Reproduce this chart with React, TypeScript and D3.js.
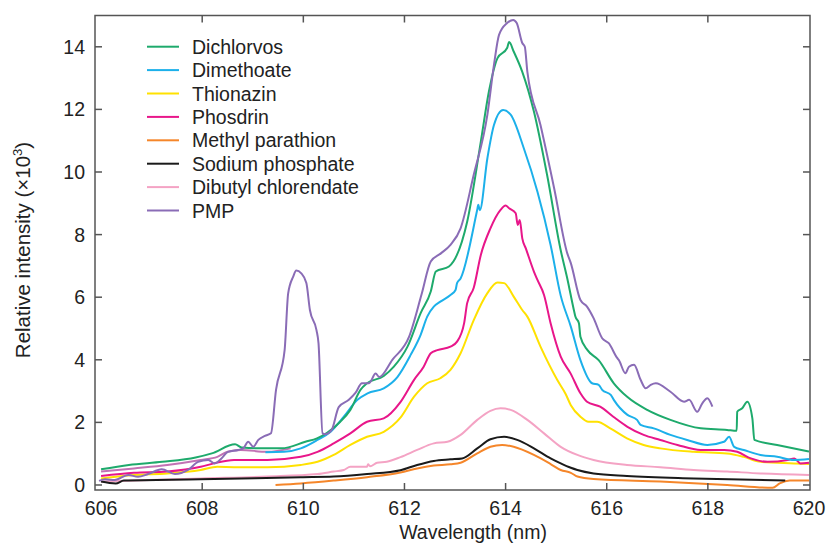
import React, { useEffect, useRef } from "react";
import * as d3 from "d3";

type Pt = [number, number];

// wavelength (nm), relative intensity (x10^3)
const dichlorvos: Pt[] = [
  [606.0, 0.5], [606.55, 0.64], [607.21, 0.74], [607.87, 0.88], [608.19, 1.01], [608.65, 1.3],
  [608.78, 1.2], [609.18, 1.17], [609.57, 1.17], [610.04, 1.38], [610.27, 1.49], [610.47, 1.67],
  [610.73, 2.02], [610.93, 2.4], [611.13, 3.04], [611.26, 3.25], [611.59, 3.48], [611.79, 3.78],
  [612.06, 4.42], [612.32, 5.49], [612.52, 6.18], [612.62, 6.82], [612.88, 6.98], [613.24, 8.41],
  [613.51, 10.97], [613.67, 12.57], [613.84, 13.64], [614.03, 13.96], [614.07, 14.15], [614.16, 13.85],
  [614.33, 13.2], [614.56, 11.93], [614.82, 9.91], [615.09, 7.5], [615.22, 6.6], [615.35, 5.59],
  [615.38, 5.38], [615.45, 5.17], [615.48, 4.74], [615.62, 4.31], [615.84, 3.99], [616.14, 3.25],
  [616.41, 2.81], [616.8, 2.4], [617.26, 2.08], [617.86, 1.81], [618.38, 1.76], [618.57, 1.73],
  [618.58, 2.34], [618.68, 2.45], [618.78, 2.66], [618.88, 2.13], [618.92, 1.44], [619.37, 1.28],
  [620.0, 1.07],
];

const dimethoate: Pt[] = [
  [609.25, 1.05], [609.62, 1.06], [609.95, 1.17], [610.28, 1.44], [610.54, 1.7], [610.8, 2.18],
  [611.07, 2.72], [611.27, 2.93], [611.59, 3.09], [611.86, 3.45], [612.12, 4.15], [612.32, 4.8],
  [612.45, 5.38], [612.58, 5.7], [612.71, 5.86], [612.91, 6.07], [613.01, 6.23], [613.04, 6.45],
  [613.11, 6.6], [613.44, 8.8], [613.46, 8.95], [613.49, 8.78], [613.64, 10.44], [613.77, 11.5],
  [613.95, 11.98], [614.1, 11.83], [614.36, 10.76], [614.63, 9.37], [614.89, 7.67], [615.09, 6.05],
  [615.29, 5.06], [615.48, 3.99], [615.71, 3.25], [615.84, 3.2], [615.91, 3.04], [616.08, 2.88],
  [616.14, 2.72], [616.41, 2.24], [616.6, 2.08], [616.67, 1.92], [616.93, 1.81], [617.26, 1.6],
  [617.59, 1.44], [617.99, 1.28], [618.32, 1.38], [618.42, 1.54], [618.52, 1.22], [618.71, 1.12],
  [619.04, 0.96], [619.37, 0.9], [619.7, 0.8], [620.0, 0.83],
];

const thionazin: Pt[] = [
  [606.0, 0.21], [606.65, 0.32], [607.31, 0.37], [607.97, 0.48], [608.3, 0.58], [608.63, 0.57],
  [609.29, 0.57], [609.95, 0.64], [610.28, 0.74], [610.6, 0.96], [610.93, 1.28], [611.26, 1.54],
  [611.59, 1.7], [611.92, 2.15], [612.19, 2.82], [612.45, 3.25], [612.71, 3.41], [612.91, 3.68],
  [613.11, 4.21], [613.37, 5.27], [613.64, 6.13], [613.84, 6.47], [613.97, 6.45], [614.16, 6.02],
  [614.33, 5.59], [614.43, 5.38], [614.69, 4.42], [615.02, 3.36], [615.19, 2.9], [615.29, 2.55],
  [615.48, 2.18], [615.64, 2.02], [615.81, 2.02], [616.07, 1.81], [616.4, 1.49], [616.73, 1.28],
  [617.06, 1.17], [617.72, 1.06], [618.38, 1.01], [618.71, 0.9], [619.04, 0.74], [619.7, 0.69],
  [620.0, 0.67],
];

const phosdrin: Pt[] = [
  [606.0, 0.29], [606.65, 0.39], [607.31, 0.43], [607.97, 0.58], [608.23, 0.69], [608.63, 0.8],
  [609.29, 0.8], [609.95, 0.9], [610.28, 1.06], [610.6, 1.33], [610.93, 1.65], [611.26, 2.02],
  [611.59, 2.13], [611.92, 2.65], [612.19, 3.36], [612.38, 3.78], [612.52, 4.21], [612.65, 4.31],
  [612.91, 4.42], [613.04, 4.58], [613.18, 5.17], [613.24, 5.81], [613.37, 6.3], [613.51, 7.35],
  [613.7, 8.2], [613.9, 8.79], [614.0, 8.93], [614.07, 8.84], [614.2, 8.68], [614.24, 8.31],
  [614.28, 8.47], [614.33, 7.88], [614.4, 7.56], [614.56, 6.82], [614.63, 6.55], [614.76, 6.07],
  [614.89, 5.17], [615.09, 4.1], [615.29, 3.55], [615.48, 2.93], [615.61, 2.66], [615.87, 2.5],
  [616.13, 2.18], [616.41, 1.86], [616.73, 1.6], [617.06, 1.44], [617.4, 1.28], [617.86, 1.12],
  [618.32, 1.12], [618.58, 1.06], [618.85, 0.85], [619.18, 0.74], [619.58, 0.8], [619.71, 0.85],
  [619.83, 0.69], [620.0, 0.71],
];

const methylParathion: Pt[] = [
  [609.45, 0.0], [609.95, 0.05], [610.6, 0.14], [611.26, 0.25], [611.92, 0.4], [612.25, 0.53],
  [612.58, 0.62], [612.91, 0.66], [613.11, 0.71], [613.44, 1.01], [613.7, 1.22], [613.93, 1.28],
  [614.16, 1.22], [614.56, 0.96], [614.89, 0.67], [615.09, 0.48], [615.29, 0.39], [615.42, 0.27],
  [615.74, 0.19], [617.06, 0.11], [618.38, 0.0], [619.28, -0.09], [619.42, 0.05], [619.62, 0.14],
  [620.0, 0.14],
];

const sodiumPhosphate: Pt[] = [
  [606.0, 0.11], [606.29, 0.05], [606.45, 0.14], [607.97, 0.18], [609.95, 0.25], [610.6, 0.27],
  [611.26, 0.35], [611.92, 0.47], [612.25, 0.64], [612.58, 0.77], [612.91, 0.82], [613.14, 0.85],
  [613.44, 1.17], [613.7, 1.46], [613.97, 1.54], [614.23, 1.44], [614.56, 1.17], [614.89, 0.85],
  [615.09, 0.69], [615.29, 0.55], [615.42, 0.48], [615.74, 0.37], [616.4, 0.29], [617.72, 0.21],
  [619.53, 0.14],
];

const dibutylChlorendate: Pt[] = [
  [606.0, 0.11], [607.97, 0.21], [609.29, 0.27], [610.28, 0.35], [610.6, 0.43], [610.8, 0.48],
  [610.93, 0.58], [611.26, 0.58], [611.28, 0.66], [611.32, 0.6], [611.46, 0.71], [611.65, 0.74],
  [611.92, 0.89], [612.25, 1.12], [612.58, 1.33], [612.85, 1.38], [613.11, 1.6], [613.44, 2.08],
  [613.7, 2.37], [613.9, 2.45], [614.1, 2.4], [614.43, 2.08], [614.76, 1.65], [615.09, 1.22],
  [615.42, 0.96], [615.74, 0.8], [616.4, 0.64], [617.06, 0.57], [617.72, 0.48], [618.38, 0.43],
  [619.04, 0.37], [620.0, 0.32],
];

const pmp: Pt[] = [
  [605.96, 0.13], [606.08, 0.18], [606.27, 0.16], [606.54, 0.32], [606.73, 0.26], [606.93, 0.35],
  [607.2, 0.5], [607.46, 0.35], [607.72, 0.48], [607.92, 0.74], [608.12, 0.8], [608.25, 0.69],
  [608.38, 0.85], [608.51, 1.06], [608.71, 1.12], [608.81, 1.17], [608.91, 1.38], [609.01, 1.22],
  [609.11, 1.44], [609.24, 1.57], [609.36, 1.65], [609.46, 3.04], [609.63, 4.31], [609.7, 6.12],
  [609.8, 6.66], [609.86, 6.85], [609.96, 6.76], [610.06, 6.45], [610.13, 5.59], [610.26, 4.95],
  [610.3, 4.53], [610.38, 1.65], [610.43, 1.62], [610.56, 1.76], [610.7, 2.49], [610.9, 2.72],
  [611.03, 2.94], [611.16, 3.25], [611.3, 3.25], [611.43, 3.56], [611.5, 3.45], [611.76, 4.0],
  [612.09, 4.73], [612.34, 6.1], [612.52, 7.14], [612.72, 7.4], [612.91, 7.67], [613.11, 8.2],
  [613.37, 9.91], [613.64, 11.83], [613.77, 13.42], [613.87, 14.38], [614.03, 14.76], [614.15, 14.86],
  [614.22, 14.76], [614.33, 14.12], [614.38, 14.0], [614.43, 13.21], [614.69, 11.5], [614.96, 9.48],
  [615.22, 7.4], [615.29, 7.09], [615.48, 5.91], [615.61, 5.7], [615.74, 5.33], [615.91, 4.69],
  [616.04, 4.53], [616.21, 4.05], [616.24, 3.99], [616.37, 3.57], [616.44, 3.78], [616.54, 3.84],
  [616.67, 3.36], [616.77, 3.09], [616.87, 3.2], [616.97, 3.25], [617.26, 2.98], [617.53, 2.66],
  [617.63, 2.72], [617.79, 2.34], [617.89, 2.61], [617.99, 2.77], [618.09, 2.5],
];

// unlabelled mauve trace in the lower left
const mauveTrace: Pt[] = [
  [606.0, 0.43], [606.65, 0.53], [607.31, 0.64], [607.97, 0.8], [608.3, 0.9], [608.5, 1.06],
  [608.76, 1.12], [609.29, 1.06], [609.75, 1.17],
];

const seriesNames = [
  "Dichlorvos", "Dimethoate", "Thionazin", "Phosdrin", "Methyl parathion",
  "Sodium phosphate", "Dibutyl chlorendate", "PMP",
];
const seriesColors = [
  "#1eaa6c", "#1cb0ea", "#ffe100", "#e8168a", "#f5862a", "#1a1a1a", "#f4a3c4", "#8a6cb6",
];
const seriesData = [
  dichlorvos, dimethoate, thionazin, phosdrin, methylParathion,
  sodiumPhosphate, dibutylChlorendate, pmp,
];
// draw order (back to front)
const drawOrder = [6, 4, 5, 2, 3, 1, 0, 7];

const xTicks = [606, 608, 610, 612, 614, 616, 618, 620];
const yTicks = [0, 2, 4, 6, 8, 10, 12, 14];

const App = () => {
  const svgRef = useRef<SVGSVGElement>(null);

  useEffect(() => {
    const svg = d3.select(svgRef.current);
    svg.selectAll("*").remove();

    const x = d3.scaleLinear().domain([605.88, 620.02]).range([95, 810]);
    const y = d3.scaleLinear().domain([-0.16, 15]).range([490, 15.5]);
    const font = "'Liberation Sans', Arial, sans-serif";
    const fs = 19.5;
    const axisColor = "#555";
    const tickLen = 7;

    const line = d3
      .line<Pt>()
      .x((d) => x(d[0]))
      .y((d) => y(d[1]))
      .curve(d3.curveMonotoneX);

    const plot = svg.append("g");
    plot
      .append("path")
      .datum(mauveTrace)
      .attr("d", line)
      .attr("fill", "none")
      .attr("stroke", "#c272b4")
      .attr("stroke-width", 2);

    drawOrder.forEach((i) => {
      plot
        .append("path")
        .datum(seriesData[i])
        .attr("d", line)
        .attr("fill", "none")
        .attr("stroke", seriesColors[i])
        .attr("stroke-width", 2)
        .attr("stroke-linejoin", "round");
    });

    // frame
    const [x0, x1] = x.range();
    const [y0, y1] = y.range();
    svg
      .append("rect")
      .attr("x", x0)
      .attr("y", y1)
      .attr("width", x1 - x0)
      .attr("height", y0 - y1)
      .attr("fill", "none")
      .attr("stroke", axisColor)
      .attr("stroke-width", 1.5);

    // inward ticks on all sides
    const ticks = svg.append("g").attr("stroke", axisColor).attr("stroke-width", 1.5);
    xTicks.slice(1, -1).forEach((t) => {
      ticks.append("line").attr("x1", x(t)).attr("x2", x(t)).attr("y1", y0).attr("y2", y0 - tickLen);
      ticks.append("line").attr("x1", x(t)).attr("x2", x(t)).attr("y1", y1).attr("y2", y1 + tickLen);
    });
    yTicks.forEach((t) => {
      ticks.append("line").attr("x1", x0).attr("x2", x0 + tickLen).attr("y1", y(t)).attr("y2", y(t));
      ticks.append("line").attr("x1", x1).attr("x2", x1 - tickLen).attr("y1", y(t)).attr("y2", y(t));
    });

    // tick labels
    svg
      .append("g")
      .selectAll("text")
      .data(xTicks)
      .join("text")
      .attr("x", (d) => x(d))
      .attr("y", 515)
      .attr("text-anchor", "middle")
      .attr("font-family", font)
      .attr("font-size", fs)
      .attr("fill", "#222")
      .text((d) => d);

    svg
      .append("g")
      .selectAll("text")
      .data(yTicks)
      .join("text")
      .attr("x", 85)
      .attr("y", (d) => y(d))
      .attr("dy", "0.36em")
      .attr("text-anchor", "end")
      .attr("font-family", font)
      .attr("font-size", fs)
      .attr("fill", "#222")
      .text((d) => d);

    // axis titles
    svg
      .append("text")
      .attr("x", 473)
      .attr("y", 539)
      .attr("text-anchor", "middle")
      .attr("font-family", font)
      .attr("font-size", fs)
      .attr("fill", "#222")
      .text("Wavelength (nm)");

    const yl = svg
      .append("text")
      .attr("transform", "translate(30,250) rotate(-90)")
      .attr("text-anchor", "middle")
      .attr("font-family", font)
      .attr("font-size", 20.5)
      .attr("fill", "#222");
    yl.append("tspan").text("Relative intensity (\u00d710");
    yl.append("tspan").attr("dy", -8).attr("font-size", 13).text("3");
    yl.append("tspan").attr("dy", 8).text(")");

    // legend
    const legend = svg.append("g");
    seriesNames.forEach((name, i) => {
      const ly = 46.7 + i * 23.4;
      legend
        .append("line")
        .attr("x1", 147)
        .attr("x2", 179)
        .attr("y1", ly)
        .attr("y2", ly)
        .attr("stroke", seriesColors[i])
        .attr("stroke-width", 2);
      legend
        .append("text")
        .attr("x", 192)
        .attr("y", ly)
        .attr("dy", "0.36em")
        .attr("font-family", font)
        .attr("font-size", fs)
        .attr("fill", "#222")
        .text(name);
    });
  }, []);

  return (
    <svg
      ref={svgRef}
      width={826}
      height={547}
      style={{ position: "absolute", left: 0, top: 0, background: "#fff" }}
    ></svg>
  );
};

export default App;
